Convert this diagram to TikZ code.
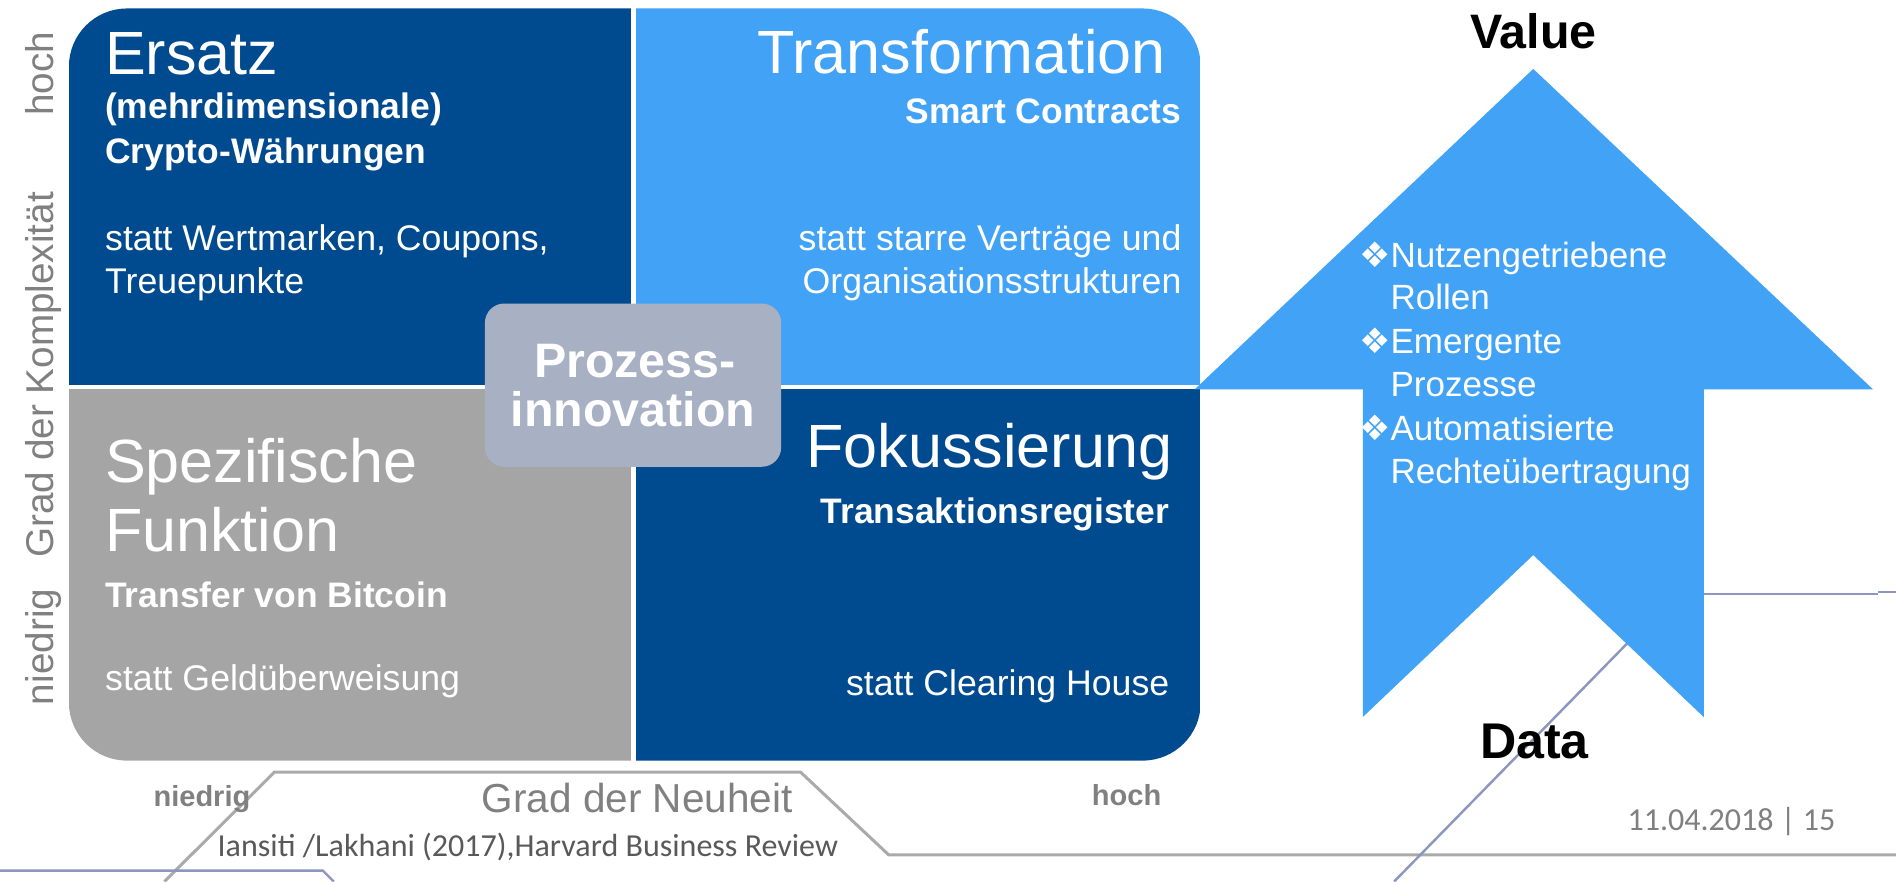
\documentclass[tikz,border=0pt]{standalone}
\usepackage{fontspec}
\setmainfont{Liberation Sans}
\newfontfamily\carlito{Carlito}
\newfontfamily\dejavu{DejaVu Sans}
\newcommand\fsz[1]{\fontsize{#1}{#1}\selectfont}
\definecolor{dblue}{RGB}{0,74,143}
\definecolor{lblue}{RGB}{65,162,246}
\definecolor{qgray}{RGB}{165,165,165}
\definecolor{pgray}{RGB}{168,176,196}
\definecolor{axgray}{RGB}{128,128,128}
\definecolor{lngray}{RGB}{170,170,170}
\definecolor{lnblue}{RGB}{140,150,190}
\begin{document}
\begin{tikzpicture}[x=1pt,y=-1pt,
  every node/.style={inner sep=0pt,outer sep=0pt},
  hdtext/.style={font=\fsz{50.5}, text=white},
  sbtext/.style={font=\fsz{29.3}\bfseries, text=white},
  bdtext/.style={font=\fsz{29.5}, text=white},
  axtext/.style={font=\fsz{32}, text=axgray, rotate=90, anchor=base},
  bottext/.style={font=\fsz{24}\bfseries, text=axgray, anchor=base west},
  arrtext/.style={font=\fsz{29}, text=white, anchor=base west},
  bullet/.style={font=\dejavu\fsz{29}, text=white, anchor=base east},
  bgline/.style={line width=2.5pt, draw=lngray},
  blline/.style={line width=2pt, draw=lnblue}]
\useasboundingbox (0,0) rectangle (1568,729);
\fill[white] (0,0) rectangle (1568,729);

% background lines
\draw[bgline] (136,729) -- (227,638.5) -- (662,638.5) -- (735,707) -- (1568,707);
\draw[blline] (0,720) -- (267,720) -- (276,729);
\draw[blline] (1385,491) -- (1553,491);
\draw[blline] (1553,489.5) -- (1568,489.5);
\draw[blline] (1380,497) -- (1153,729);

% quadrants
\begin{scope}
\clip[rounded corners=48pt] (57,7) rectangle (993,629);
\fill[dblue] (57,7) rectangle (522,318);
\fill[lblue] (526,7) rectangle (993,318);
\fill[qgray] (57,322) rectangle (522,629);
\fill[dblue] (526,322) rectangle (993,629);
\end{scope}

% Prozessinnovation box
\fill[pgray, rounded corners=16pt] (401,251) rectangle (646,386);

% big arrow
\fill[lblue] (1268,57) -- (1549,322) -- (1409,322) -- (1409,593) -- (1268,459)
  -- (1127,593) -- (1127,322) -- (988,322) -- cycle;

% top-left
\node[hdtext, anchor=base west] (ersatz) at (87,62) {Ersatz};
\node[sbtext, anchor=base west] (mehr) at (87,98) {(mehrdimensionale)};
\node[sbtext, anchor=base west] (crypto) at (87,135) {Crypto-Währungen};
\node[bdtext, anchor=base west] (wert) at (87,207) {statt Wertmarken, Coupons,};
\node[bdtext, anchor=base west] (treue) at (87,243) {Treuepunkte};

% top-right
\node[hdtext, anchor=base east] (transf) at (964,61) {Transformation};
\node[sbtext, anchor=base east] (smart) at (977,102) {Smart Contracts};
\node[bdtext, anchor=base east] (starre) at (977,207) {statt starre Verträge und};
\node[bdtext, anchor=base east] (orga) at (977,243) {Organisationsstrukturen};

% bottom-left
\node[hdtext, anchor=base west] (spez) at (87,399) {Spezifische};
\node[hdtext, anchor=base west] (funk) at (87,456) {Funktion};
\node[sbtext, anchor=base west] (transfer) at (87,502) {Transfer von Bitcoin};
\node[bdtext, anchor=base west] (geld) at (87,571) {statt Geldüberweisung};

% bottom-right
\node[hdtext, anchor=base east] (fokus) at (970,387) {Fokussierung};
\node[sbtext, anchor=base east] (trans) at (967,433) {Transaktionsregister};
\node[bdtext, anchor=base east] (clear) at (967,575) {statt Clearing House};

% Prozessinnovation
\node[font=\fsz{40}\bfseries, text=white, anchor=base] (proz) at (525,312) {Prozess-};
\node[font=\fsz{40}\bfseries, text=white, anchor=base] (inno) at (523.5,353) {innovation};

% left axis
\node[axtext] (yhoch) at (44,61) {hoch};
\node[axtext] (ygrad) at (44,310) {Grad der Komplexität};
\node[axtext] (ynied) at (44,535) {niedrig};

% bottom axis
\node[bottext] (xnied) at (127,667) {niedrig};
\node[font=\fsz{33.5}, text=axgray, anchor=base west] (xgrad) at (398.5,672) {Grad der Neuheit};
\node[bottext] (xhoch) at (903,666) {hoch};
\node[font=\carlito\fsz{26.5}, text=black!65, anchor=base west] (cite) at (180,708) {Iansiti /Lakhani (2017),Harvard Business Review};
\node[font=\carlito\fsz{26.5}, text=axgray, anchor=base west] (date) at (1346,687) {11.04.2018 | 15};

% arrow labels
\node[font=\fsz{40}\bfseries, text=black, anchor=base] (value) at (1268,40) {Value};
\node[font=\fsz{41.5}\bfseries, text=black, anchor=base] (data) at (1269,627) {Data};

\node[bullet] (b1) at (1150,221) {❖};
\node[arrtext] (a1) at (1150,221) {Nutzengetriebene};
\node[arrtext] (a2) at (1150,256) {Rollen};
\node[bullet] (b2) at (1150,292) {❖};
\node[arrtext] (a3) at (1150,292) {Emergente};
\node[arrtext] (a4) at (1150,328) {Prozesse};
\node[bullet] (b3) at (1150,364) {❖};
\node[arrtext] (a5) at (1150,364) {Automatisierte};
\node[arrtext] (a6) at (1150,400) {Rechteübertragung};
\end{tikzpicture}
\end{document}
